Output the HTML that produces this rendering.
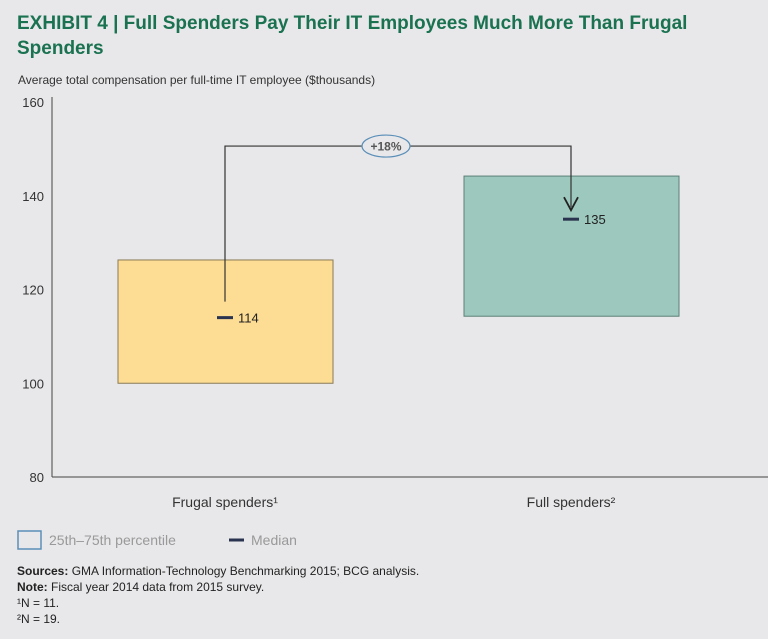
<!DOCTYPE html>
<html><head><meta charset="utf-8"><style>
body{margin:0;background:#e8e8ea;font-family:"Liberation Sans",sans-serif;}
#wrap{position:relative;width:768px;height:639px;overflow:hidden;background:#e8e8ea;}
</style></head><body>
<div id="wrap">
<svg width="768" height="639" xmlns="http://www.w3.org/2000/svg" id="svg">
<text x="17" y="29" font-size="19" font-weight="bold" fill="#1a7251">EXHIBIT 4 | Full Spenders Pay Their IT Employees Much More Than Frugal</text>
<text x="17" y="54" font-size="19" font-weight="bold" fill="#1a7251">Spenders</text>
<text x="18" y="84" font-size="12" fill="#333">Average total compensation per full-time IT employee ($thousands)</text>
<g id="plot"></g>
<rect x="18" y="531" width="23" height="18" fill="none" stroke="#5b8fb8" stroke-width="1.5"/>
<text x="49" y="545" font-size="14" fill="#999">25th–75th percentile</text>
<line x1="229" y1="540" x2="244" y2="540" stroke="#2a3350" stroke-width="3"/>
<text x="251" y="545" font-size="14" fill="#999">Median</text>
<g font-size="12" fill="#222">
<text x="17" y="575"><tspan font-weight="bold">Sources:</tspan> GMA Information-Technology Benchmarking 2015; BCG analysis.</text>
<text x="17" y="591"><tspan font-weight="bold">Note:</tspan> Fiscal year 2014 data from 2015 survey.</text>
<text x="17" y="607">¹N = 11.</text>
<text x="17" y="623">²N = 19.</text>
</g>
</svg>
</div>
<script>
const categories=["Frugal spenders¹","Full spenders²"];
const q1=[100,114.3];
const q3=[126.3,144.2];
const medians=[114,135];
const yTicks=[80,100,120,140,160];
const fills=["#fddc94","#9dc8bd"];
const strokes=["#8a7a55","#5a7f76"];
const ns="http://www.w3.org/2000/svg";
const g=document.getElementById('plot');
const y=v=>477-(v-80)*4.6875;
const cx=i=>225+i*346;
function mk(t,a,p){const e=document.createElementNS(ns,t);for(const k in a)e.setAttribute(k,a[k]);(p||g).appendChild(e);return e;}
let ax=mk('line',{x1:52,y1:97,x2:52,y2:477,stroke:'#444','stroke-width':1});


let bx=mk('line',{x1:52,y1:477,x2:768,y2:477,stroke:'#444','stroke-width':1});


yTicks.forEach(v=>{const t=mk('text',{x:44,y:y(v)+5,'font-size':13,fill:'#333','text-anchor':'end'});t.textContent=v;

});
categories.forEach((c,i)=>{
const r=mk('rect',{x:cx(i)-107,y:y(q3[i]),width:215,height:y(q1[i])-y(q3[i]),fill:fills[i],stroke:strokes[i],'stroke-width':1});


const l=mk('text',{x:cx(i),y:507,'font-size':14,fill:'#333','text-anchor':'middle'});l.textContent=c;


});
const connTop=y(150.6);
const conn=mk('path',{d:`M${cx(0)} ${y(medians[0])-16} V${connTop} H${cx(1)} V${y(medians[1])-12}`,fill:'none',stroke:'#333','stroke-width':1.2});


const ar=mk('path',{d:`M${cx(1)-7} ${y(medians[1])-22} L${cx(1)} ${y(medians[1])-9} L${cx(1)+7} ${y(medians[1])-22}`,fill:'none',stroke:'#222','stroke-width':1.8});


const el=mk('ellipse',{cx:386,cy:connTop,rx:24,ry:11,fill:'#e8e8ea',stroke:'#5b8fb8','stroke-width':1.2});


const et=mk('text',{x:386,y:connTop+4.5,'font-size':12,'font-weight':'bold',fill:'#555','text-anchor':'middle'});et.textContent='+18%';


categories.forEach((c,i)=>{
const m=mk('line',{x1:cx(i)-8,y1:y(medians[i]),x2:cx(i)+8,y2:y(medians[i]),stroke:'#2a3350','stroke-width':3});


const t=mk('text',{x:cx(i)+13,y:y(medians[i])+5,'font-size':13,fill:'#222'});t.textContent=medians[i];


});
</script>
</body></html>
